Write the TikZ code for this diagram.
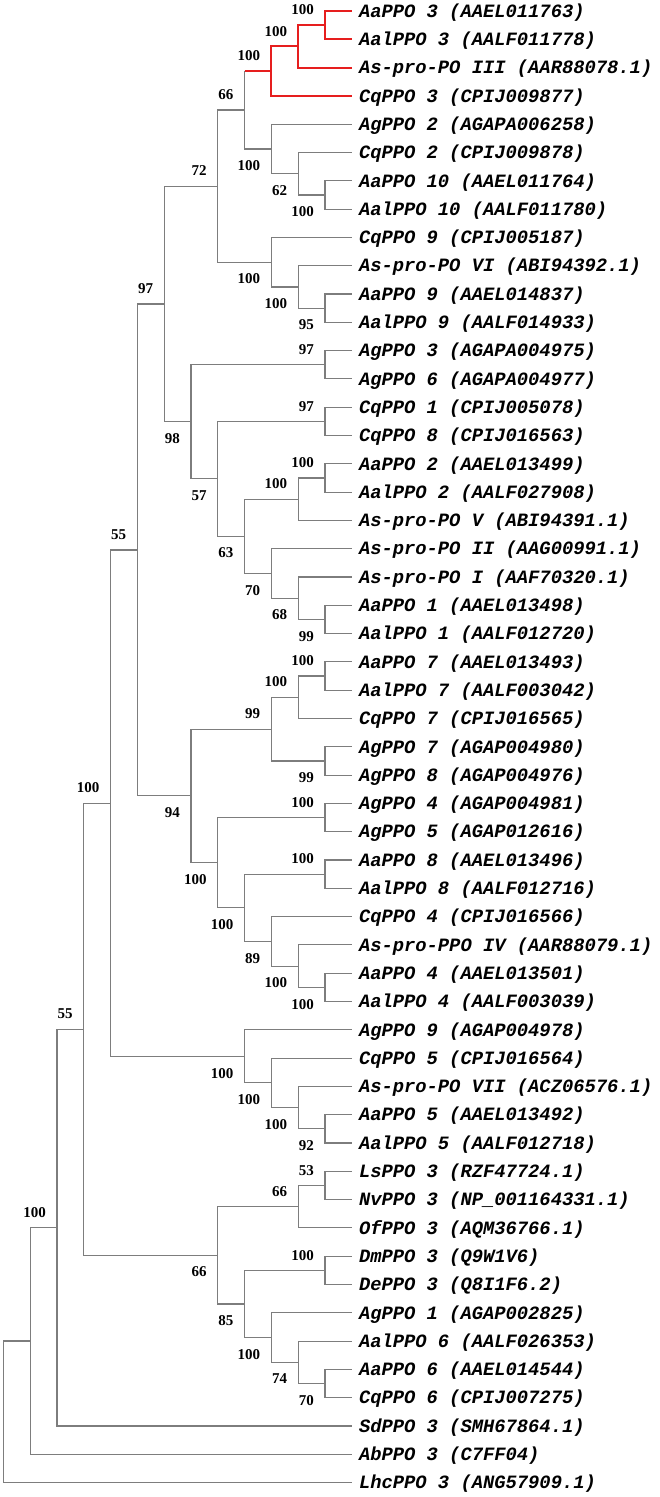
\documentclass[tikz,border=0pt]{standalone}
\usepackage{fontspec}
\newfontfamily\leaffont{Liberation Mono}
\newfontfamily\bsfont{Liberation Serif}
\definecolor{brgray}{RGB}{125,125,125}
\definecolor{brred}{RGB}{230,30,30}
\tikzset{
  br/.style={draw=brgray, line width=1.15pt},
  rbr/.style={draw=brred, line width=2pt},
  leaf/.style={anchor=base west, inner sep=0pt, xshift=7pt, yshift=-6.2pt,
    font=\leaffont\fontsize{18.8}{18.8}\selectfont\bfseries\itshape},
  bsa/.style={anchor=south east, inner sep=0pt, xshift=-11pt, yshift=10pt,
    font=\bsfont\fontsize{15}{15}\selectfont\bfseries},
  bsb/.style={anchor=north east, inner sep=0pt, xshift=-11pt, yshift=-11.5pt,
    font=\bsfont\fontsize{15}{15}\selectfont\bfseries},
}
\begin{document}
\begin{tikzpicture}[x=1pt,y=-1pt]
\useasboundingbox (0,0) rectangle (660,1497);
% leaf tips
\foreach \i/\yy in {1/11,2/39.3,3/67.6,4/95.9,5/124.2,6/152.5,7/180.8,8/209.1,9/237.4,10/265.7,
 11/294.0,12/322.3,13/350.6,14/378.9,15/407.2,16/435.5,17/463.8,18/492.1,19/520.4,20/548.7,
 21/577.0,22/605.3,23/633.6,24/661.9,25/690.2,26/718.5,27/746.8,28/775.1,29/803.4,30/831.7,
 31/860.0,32/888.3,33/916.6,34/944.9,35/973.2,36/1001.5,37/1029.8,38/1058.1,39/1086.4,40/1114.7,
 41/1143.0,42/1171.3,43/1199.6,44/1227.9,45/1256.2,46/1284.5,47/1312.8,48/1341.1,49/1369.4,50/1397.7,
 51/1426.0,52/1454.3,53/1482.6}
 {\coordinate (l\i) at (351.8,\yy);}
% internal nodes
\coordinate (n1) at (325.0,25.15);
\coordinate (n2) at (298.2,46.38);
\coordinate (n3) at (271.4,71.14);
\coordinate (n7) at (325.0,194.95);
\coordinate (n6) at (298.2,173.73);
\coordinate (n5) at (271.4,148.96);
\coordinate (n4) at (244.6,110.05);
\coordinate (n11) at (325.0,308.15);
\coordinate (n10) at (298.2,286.93);
\coordinate (n9) at (271.4,262.16);
\coordinate (n8) at (217.8,186.10);
\coordinate (n14) at (325.0,364.75);
\coordinate (n16) at (325.0,421.35);
\coordinate (m18) at (325.0,477.95);
\coordinate (n18) at (298.2,499.18);
\coordinate (n21) at (325.0,619.45);
\coordinate (n20) at (298.2,598.23);
\coordinate (n19) at (271.4,573.46);
\coordinate (n17) at (244.6,536.32);
\coordinate (n15) at (217.8,478.84);
\coordinate (n13) at (191.0,421.80);
\coordinate (n12) at (164.2,303.95);
\coordinate (n27) at (325.0,676.05);
\coordinate (m24) at (298.2,697.28);
\coordinate (n26) at (325.0,760.95);
\coordinate (n24) at (271.4,729.10);
\coordinate (n28) at (325.0,817.55);
\coordinate (n30) at (325.0,874.15);
\coordinate (n33) at (325.0,987.35);
\coordinate (n32) at (298.2,966.13);
\coordinate (n31) at (271.4,941.36);
\coordinate (n29) at (244.6,907.76);
\coordinate (n25) at (217.8,862.66);
\coordinate (n23) at (191.0,795.88);
\coordinate (n22) at (137.4,549.92);
\coordinate (n38) at (325.0,1128.85);
\coordinate (n37) at (298.2,1107.63);
\coordinate (n36) at (271.4,1082.86);
\coordinate (n35) at (244.6,1056.33);
\coordinate (n34) at (110.6,803.13);
\coordinate (n43) at (325.0,1185.45);
\coordinate (n41) at (298.2,1206.68);
\coordinate (n44) at (325.0,1270.35);
\coordinate (n47) at (325.0,1383.55);
\coordinate (n46) at (298.2,1362.33);
\coordinate (n45) at (271.4,1337.56);
\coordinate (n42) at (244.6,1303.96);
\coordinate (n40) at (217.8,1255.32);
\coordinate (n39) at (83.8,1029.23);
\coordinate (nB) at (57.0,1227.61);
\coordinate (nA) at (30.2,1340.96);
\coordinate (nR) at (3.4,1411.78);
% gray branches
\foreach \p/\c in {n4/n5,n5/l5,n5/n6,n6/l6,n6/n7,n7/l7,n7/l8,n8/n4,n8/n9,n9/l9,n9/n10,n10/l10,
 n10/n11,n11/l11,n11/l12,n12/n8,n12/n13,n13/n14,n14/l13,n14/l14,n13/n15,n15/n16,n16/l15,n16/l16,
 n15/n17,n17/n18,n18/m18,n18/l19,m18/l17,m18/l18,n17/n19,n19/l20,n19/n20,n20/l21,n20/n21,n21/l22,
 n21/l23,n22/n12,n22/n23,n23/n24,n24/m24,m24/n27,n27/l24,n27/l25,m24/l26,n24/n26,n26/l27,n26/l28,
 n23/n25,n25/n28,n28/l29,n28/l30,n25/n29,n29/n30,n30/l31,n30/l32,n29/n31,n31/l33,n31/n32,n32/l34,
 n32/n33,n33/l35,n33/l36,n34/n22,n34/n35,n35/l37,n35/n36,n36/l38,n36/n37,n37/l39,n37/n38,n38/l40,
 n38/l41,n39/n34,n39/n40,n40/n41,n41/n43,n43/l42,n43/l43,n41/l44,n40/n42,n42/n44,n44/l45,n44/l46,
 n42/n45,n45/l47,n45/n46,n46/l48,n46/n47,n47/l49,n47/l50,nB/n39,nB/l51,nA/nB,nA/l52,nR/nA,nR/l53}
 {\draw[br] (\p) |- (\c);}
\draw[br] (n4) -- (n4 |- n3);
% red branches
\draw[rbr] (n4 |- n3) -- (n3);
\foreach \p/\c in {n1/l1,n1/l2,n2/n1,n2/l3,n3/n2,n3/l4}
 {\draw[rbr] (\p) |- (\c);}
% leaf labels
\foreach \i/\t in {1/{AaPPO 3 (AAEL011763)},2/{AalPPO 3 (AALF011778)},3/{As-pro-PO III (AAR88078.1)},
 4/{CqPPO 3 (CPIJ009877)},5/{AgPPO 2 (AGAPA006258)},6/{CqPPO 2 (CPIJ009878)},7/{AaPPO 10 (AAEL011764)},
 8/{AalPPO 10 (AALF011780)},9/{CqPPO 9 (CPIJ005187)},10/{As-pro-PO VI (ABI94392.1)},
 11/{AaPPO 9 (AAEL014837)},12/{AalPPO 9 (AALF014933)},13/{AgPPO 3 (AGAPA004975)},
 14/{AgPPO 6 (AGAPA004977)},15/{CqPPO 1 (CPIJ005078)},16/{CqPPO 8 (CPIJ016563)},
 17/{AaPPO 2 (AAEL013499)},18/{AalPPO 2 (AALF027908)},19/{As-pro-PO V (ABI94391.1)},
 20/{As-pro-PO II (AAG00991.1)},21/{As-pro-PO I (AAF70320.1)},22/{AaPPO 1 (AAEL013498)},
 23/{AalPPO 1 (AALF012720)},24/{AaPPO 7 (AAEL013493)},25/{AalPPO 7 (AALF003042)},
 26/{CqPPO 7 (CPIJ016565)},27/{AgPPO 7 (AGAP004980)},28/{AgPPO 8 (AGAP004976)},
 29/{AgPPO 4 (AGAP004981)},30/{AgPPO 5 (AGAP012616)},31/{AaPPO 8 (AAEL013496)},
 32/{AalPPO 8 (AALF012716)},33/{CqPPO 4 (CPIJ016566)},34/{As-pro-PPO IV (AAR88079.1)},
 35/{AaPPO 4 (AAEL013501)},36/{AalPPO 4 (AALF003039)},37/{AgPPO 9 (AGAP004978)},
 38/{CqPPO 5 (CPIJ016564)},39/{As-pro-PO VII (ACZ06576.1)},40/{AaPPO 5 (AAEL013492)},
 41/{AalPPO 5 (AALF012718)},42/{LsPPO 3 (RZF47724.1)},43/{NvPPO 3 (NP\_001164331.1)},
 44/{OfPPO 3 (AQM36766.1)},45/{DmPPO 3 (Q9W1V6)},46/{DePPO 3 (Q8I1F6.2)},
 47/{AgPPO 1 (AGAP002825)},48/{AalPPO 6 (AALF026353)},49/{AaPPO 6 (AAEL014544)},
 50/{CqPPO 6 (CPIJ007275)},51/{SdPPO 3 (SMH67864.1)},52/{AbPPO 3 (C7FF04)},
 53/{LhcPPO 3 (ANG57909.1)}}
 {\node[leaf] (t\i) at (l\i) {\t};}
% bootstrap values above branches
\foreach \n/\v in {n1/100,n2/100,n3/100,n4/66,n8/72,n12/97,n14/97,n16/97,n18/100,m18/100,n22/55,
 n24/99,m24/100,n27/100,n28/100,n30/100,n34/100,n39/55,n41/66,n43/53,n44/100,nB/100}
 {\node[bsa] (s\n) at (\n) {\v};}
% bootstrap values below branches
\foreach \n/\v in {n5/100,n6/62,n7/100,n9/100,n10/100,n11/95,n13/98,n15/57,n17/63,n19/70,n20/68,
 n21/99,n23/94,n26/99,n25/100,n29/100,n31/89,n32/100,n33/100,n35/100,n36/100,n37/100,n38/92,
 n40/66,n42/85,n45/100,n46/74,n47/70}
 {\node[bsb] (s\n) at (\n) {\v};}
\end{tikzpicture}
\end{document}
